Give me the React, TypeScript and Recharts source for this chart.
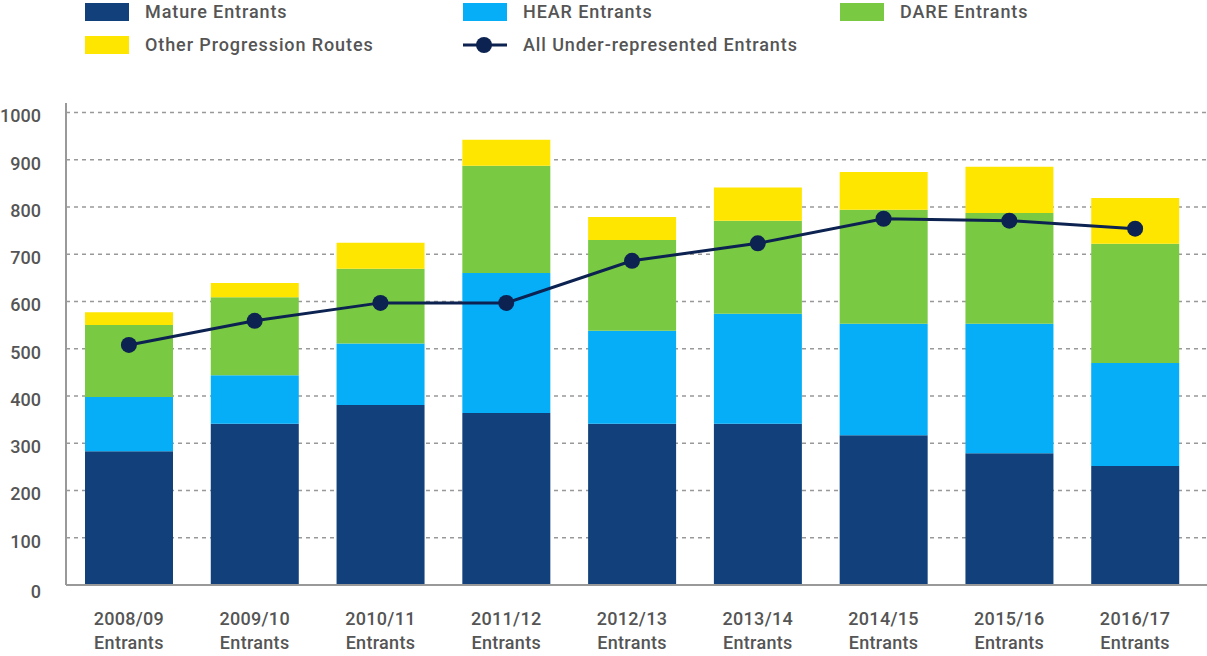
import React from 'react';
import { ComposedChart, Bar, Line, XAxis, YAxis, CartesianGrid, Legend } from 'recharts';

const categories = ['2008/09', '2009/10', '2010/11', '2011/12', '2012/13', '2013/14', '2014/15', '2015/16', '2016/17'];
const matureEntrants = [283, 341, 381, 364, 341, 341, 317, 279, 252];
const hearEntrants = [115, 103, 130, 296, 197, 233, 236, 274, 218];
const dareEntrants = [152, 165, 158, 227, 192, 197, 241, 234, 252];
const otherRoutes = [27, 30, 55, 55, 49, 70, 80, 98, 97];
const allUnderRepresented = [508, 559, 597, 597, 686, 723, 775, 771, 754];
const yTicks = [0, 100, 200, 300, 400, 500, 600, 700, 800, 900, 1000];
const Y_MAX = 1020;

const data = categories.map((c, i) => ({
  name: c,
  mature: matureEntrants[i],
  hear: hearEntrants[i],
  dare: dareEntrants[i],
  other: otherRoutes[i],
  all: allUnderRepresented[i],
}));

const FONT = 'Roboto, "DejaVu Sans", sans-serif';
const TEXT = '#555555';
const C_MATURE = '#12407A';
const C_HEAR = '#06AEF8';
const C_DARE = '#7AC943';
const C_OTHER = '#FFE600';
const C_LINE = '#0C2250';

const XTick = (props: any) => {
  const { x, y, payload } = props;
  return (
    <g transform={`translate(${x},${y})`}>
      <text textAnchor="middle" fill={TEXT} fontSize={18} fontFamily={FONT} fontWeight={500} letterSpacing={0.3}>
        <tspan x={0} dy={32}>{payload.value}</tspan>
        <tspan x={0} dy={24}>Entrants</tspan>
      </text>
    </g>
  );
};

const YTick = (props: any) => {
  const { x, y, payload } = props;
  return (
    <text x={x} y={y} dy={payload.value === 0 ? 13 : 10} textAnchor="end" fill={TEXT} fontSize={18} fontFamily={FONT} fontWeight={500}>
      {payload.value}
    </text>
  );
};

const legendItems = [
  { label: 'Mature Entrants', color: C_MATURE, type: 'rect', left: 85, top: 3 },
  { label: 'HEAR Entrants', color: C_HEAR, type: 'rect', left: 463, top: 3 },
  { label: 'DARE Entrants', color: C_DARE, type: 'rect', left: 840, top: 3 },
  { label: 'Other Progression Routes', color: C_OTHER, type: 'rect', left: 85, top: 36 },
  { label: 'All Under-represented Entrants', color: C_LINE, type: 'line', left: 463, top: 36 },
];

const renderLegend = () => (
  <div style={{ position: 'relative', width: 1207, height: 60 }}>
    {legendItems.map((it) => (
      <div key={it.label} style={{ position: 'absolute', left: it.left, top: it.top, height: 18, display: 'flex', alignItems: 'center' }}>
        {it.type === 'rect' ? (
          <div style={{ width: 44, height: 18, background: it.color }} />
        ) : (
          <svg width={44} height={18}>
            <line x1={0} y1={9} x2={44} y2={9} stroke={it.color} strokeWidth={3} />
            <circle cx={21} cy={9} r={8} fill={it.color} />
          </svg>
        )}
        <span style={{ marginLeft: 16, fontFamily: FONT, fontSize: 18, fontWeight: 500, color: TEXT, whiteSpace: 'nowrap', lineHeight: '18px', letterSpacing: '0.9px' }}>
          {it.label}
        </span>
      </div>
    ))}
  </div>
);

const gridGenerator = (p: any) => {
  const off = p && p.offset;
  if (!off) return [];
  return yTicks.filter((t) => t > 0).map((t) => off.top + off.height * (1 - t / Y_MAX));
};

export default function App() {
  return (
    <div style={{ position: 'absolute', left: 0, top: 0, width: 1207, height: 656, background: '#fff' }}>
      <ComposedChart width={1207} height={656} data={data} margin={{ top: 43, right: 0, left: 0, bottom: 0 }}>
        <CartesianGrid
          vertical={false}
          stroke="#999"
          strokeDasharray="4 4"
          strokeWidth={1.5}
          horizontalCoordinatesGenerator={gridGenerator}
        />
        <XAxis
          dataKey="name"
          height={71}
          tick={<XTick />}
          tickLine={false}
          axisLine={{ stroke: '#999', strokeWidth: 2 }}
          padding={{ left: 0, right: 9 }}
          interval={0}
        />
        <YAxis
          width={66}
          domain={[0, Y_MAX]}
          ticks={yTicks}
          tick={<YTick />}
          tickLine={false}
          tickSize={0}
          tickMargin={25}
          axisLine={{ stroke: '#999', strokeWidth: 2 }}
          interval={0}
        />
        <Legend content={renderLegend} verticalAlign="top" wrapperStyle={{ top: 0, left: 0, width: 1207, height: 60 }} />
        <Bar dataKey="mature" stackId="a" fill={C_MATURE} barSize={88} isAnimationActive={false} />
        <Bar dataKey="hear" stackId="a" fill={C_HEAR} barSize={88} isAnimationActive={false} />
        <Bar dataKey="dare" stackId="a" fill={C_DARE} barSize={88} isAnimationActive={false} />
        <Bar dataKey="other" stackId="a" fill={C_OTHER} barSize={88} isAnimationActive={false} />
        <Line
          dataKey="all"
          stroke={C_LINE}
          strokeWidth={3}
          dot={{ r: 8, fill: C_LINE, stroke: 'none' }}
          activeDot={false}
          isAnimationActive={false}
        />
      </ComposedChart>
    </div>
  );
}
